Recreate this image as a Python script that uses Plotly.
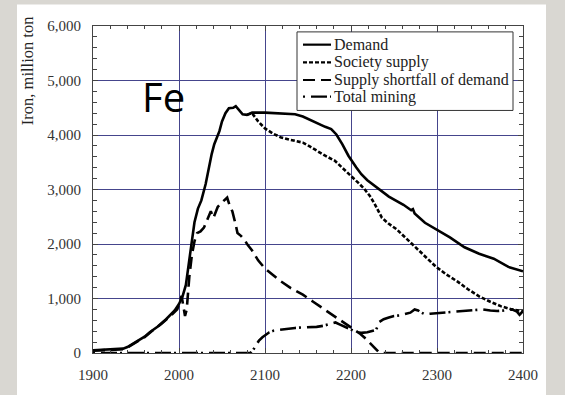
import plotly.graph_objects as go

# Iron demand (solid)
demand_years = [1900, 1920, 1935, 1940, 1950, 1960, 1966, 1975, 1985, 1990, 1995, 2000,
                2004, 2008, 2011, 2014, 2018, 2022, 2026, 2031, 2035, 2038, 2041, 2047,
                2050, 2054, 2058, 2063, 2066, 2070, 2074, 2079, 2085, 2100, 2120, 2135,
                2144, 2152, 2160, 2170, 2177, 2183, 2190, 2197, 2206, 2212, 2219, 2229,
                2244, 2261, 2270, 2272, 2274, 2286, 2299, 2315, 2332, 2349, 2366, 2383, 2400]
demand_vals = [50, 60, 80, 110, 200, 300, 380, 480, 620, 700, 780, 900,
               1030, 1250, 1600, 1950, 2400, 2650, 2800, 3100, 3450, 3650, 3830, 4070,
               4250, 4400, 4490, 4500, 4530, 4450, 4380, 4370, 4410, 4410, 4400, 4380,
               4340, 4280, 4220, 4150, 4110, 4010, 3830, 3620, 3410, 3280, 3170, 3050,
               2870, 2720, 2620, 2640, 2560, 2390, 2270, 2120, 1940, 1820, 1730, 1580, 1500]

# Society supply (dotted)
supply_years = [2079, 2085, 2092, 2100, 2110, 2118, 2130, 2144, 2152, 2160, 2170, 2181,
                2190, 2200, 2208, 2215, 2222, 2227, 2232, 2236, 2244, 2253, 2263, 2273,
                2286, 2299, 2311, 2324, 2336, 2349, 2362, 2374, 2387, 2400]
supply_vals = [4370, 4400, 4250, 4120, 4020, 3960, 3910, 3860, 3790, 3710, 3620, 3530,
               3400, 3260, 3130, 3020, 2880, 2750, 2600, 2480, 2370, 2270, 2120, 1970,
               1780, 1580, 1440, 1310, 1170, 1040, 940, 860, 800, 770]

# Supply shortfall of demand (long dash)
shortfall_years = [1900, 1935, 1940, 1950, 1960, 1970, 1980, 1990, 1998, 2003, 2007, 2009,
                   2012, 2015, 2018, 2021, 2025, 2029, 2033, 2037, 2040, 2042, 2045, 2049,
                   2053, 2056, 2059, 2062, 2066, 2068, 2072, 2076, 2080, 2085, 2092, 2100,
                   2110, 2118, 2130, 2144, 2156, 2169, 2182, 2194, 2203, 2211, 2218, 2223,
                   2228, 2232, 2236, 2400]
shortfall_vals = [40, 70, 100, 190, 290, 420, 540, 680, 800, 1050, 680, 800,
                  1400, 1800, 2050, 2200, 2230, 2300, 2450, 2600, 2480, 2550, 2680, 2750,
                  2800, 2850, 2700, 2600, 2350, 2200, 2150, 2080, 1980, 1880, 1700, 1550,
                  1420, 1320, 1190, 1070, 940, 800, 660, 530, 440, 350, 250, 170,
                  90, 20, 0, 0]

# Total mining (dash-dot)
mining_years = [1900, 2083, 2086, 2090, 2093, 2097, 2100, 2105, 2110, 2118, 2127, 2135,
                2144, 2152, 2160, 2168, 2177, 2182, 2186, 2194, 2200, 2206, 2212, 2219,
                2225, 2229, 2233, 2238, 2244, 2250, 2257, 2263, 2269, 2274, 2278, 2282,
                2286, 2292, 2299, 2307, 2315, 2324, 2332, 2342, 2353, 2362, 2370, 2378,
                2387, 2393, 2396, 2400]
mining_vals = [0, 0, 50, 150, 230, 290, 330, 380, 410, 430, 440, 460,
               470, 470, 480, 500, 530, 560, 530, 480, 430, 380, 370, 380,
               400, 420, 570, 620, 650, 680, 690, 720, 740, 800, 780, 740,
               710, 720, 730, 740, 750, 760, 770, 780, 800, 780, 770, 780,
               800, 760, 700, 770]

series_names = ["Demand", "Society supply", "Supply shortfall of demand", "Total mining"]
series_dash = ["solid", "4px,2px", "12px,6px", "2px,6px,16px,3px"]

serif = "Liberation Serif"
axis_col = "#444444"
grid_col = "#45458c"

# plot-area pixel geometry used to place decorations in paper coordinates
L, R, T, B = 93, 523, 26, 359


def px_x(p):
    return (p - L) / (R - L)


def px_y(p):
    return (B - p) / (B - T)


fig = go.Figure()
series = [(demand_years, demand_vals), (supply_years, supply_vals),
          (shortfall_years, shortfall_vals), (mining_years, mining_vals)]
for (xs, ys), name, dash in zip(series, series_names, series_dash):
    fig.add_trace(go.Scatter(x=xs, y=ys, mode="lines", name=name, showlegend=False,
                             line=dict(color="black", width=2.6, dash=dash)))

# white panel behind the chart
fig.add_shape(type="rect", xref="paper", yref="paper",
              x0=px_x(17), x1=px_x(546), y0=-0.2, y1=px_y(4),
              fillcolor="white", line=dict(width=0), layer="below")

# legend box with sample lines and labels
fig.add_shape(type="rect", xref="paper", yref="paper",
              x0=px_x(297), x1=px_x(513), y0=px_y(112), y1=px_y(32),
              fillcolor="white", line=dict(color="#333333", width=1))
row_y = [45, 63, 81, 98]
for name, dash, ry in zip(series_names, series_dash, row_y):
    fig.add_shape(type="line", xref="paper", yref="paper",
                  x0=px_x(303), x1=px_x(331), y0=px_y(ry), y1=px_y(ry),
                  line=dict(color="black", width=2.2, dash=dash))
    fig.add_annotation(text=name, xref="paper", yref="paper", x=px_x(332), y=px_y(ry),
                       xanchor="left", yanchor="middle", showarrow=False,
                       font=dict(family=serif, size=16, color="#222222"))

fig.add_annotation(text="Fe", xref="paper", yref="paper", x=px_x(163), y=px_y(98),
                   xanchor="center", yanchor="middle", showarrow=False,
                   font=dict(family="Open Sans", size=40, color="black"))
fig.add_annotation(text="Iron, million ton", xref="paper", yref="paper",
                   x=px_x(27), y=px_y(72), xanchor="center", yanchor="middle",
                   textangle=-90, showarrow=False,
                   font=dict(family=serif, size=16.5, color="#222222"))

axis_common = dict(showline=True, linecolor=axis_col, linewidth=1, mirror="allticks",
                   ticks="inside", ticklen=5, tickcolor=axis_col, showgrid=True,
                   gridcolor=grid_col, gridwidth=1, zeroline=False,
                   tickfont=dict(family=serif, size=15, color="#333333"))

fig.update_xaxes(range=[1900, 2400], dtick=100, tick0=1900,
                 minor=dict(ticks="inside", dtick=20, ticklen=3, tickcolor=axis_col,
                            showgrid=False),
                 ticklabelstandoff=8, **axis_common)
fig.update_yaxes(range=[0, 6000], dtick=1000, tickformat=",",
                 minor=dict(ticks="inside", dtick=200, ticklen=4, tickcolor=axis_col,
                            showgrid=False),
                 ticklabelstandoff=8, **axis_common)

fig.update_layout(
    width=565, height=395,
    margin=dict(l=L, r=565 - R, t=T, b=395 - B),
    paper_bgcolor="#d9d7d2", plot_bgcolor="white",
    font=dict(family=serif, size=15, color="#333333"),
    showlegend=False,
)

fig.write_html("out.html")
